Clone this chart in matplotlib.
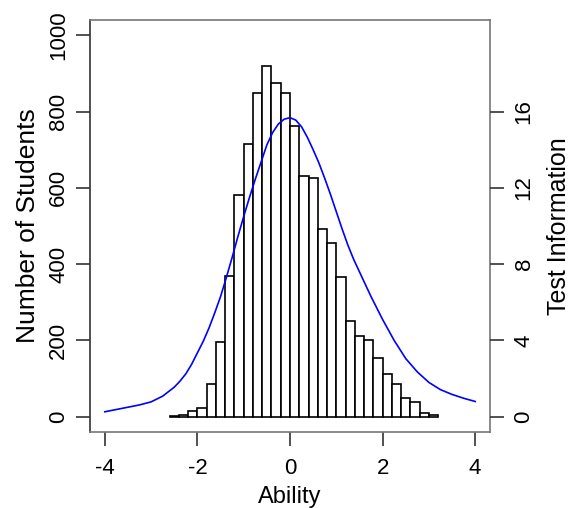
import matplotlib.pyplot as plt
import numpy as np

plt.rcParams['font.family'] = ['Liberation Sans', 'DejaVu Sans']

# Histogram of abilities (bins of width 0.2 from -2.6 to 3.2)
bin_edges = np.round(np.arange(-2.6, 3.21, 0.2), 2)
counts = [1, 5, 16, 24, 85, 196, 369, 582, 715, 849, 919, 874, 848, 762,
          631, 625, 492, 456, 366, 251, 212, 200, 154, 113, 85, 48, 39, 9, 4]

# Test information curve
theta = [-4.0, -3.75, -3.5, -3.25, -3.0, -2.75, -2.5, -2.375, -2.25, -2.125,
         -2.0, -1.875, -1.75, -1.625, -1.5, -1.375, -1.25, -1.125,
         -1.0, -0.875, -0.75, -0.625, -0.5, -0.375, -0.25, -0.125,
         0.0, 0.125, 0.25, 0.375, 0.5, 0.625, 0.75, 0.875,
         1.0, 1.125, 1.25, 1.375, 1.5, 1.625, 1.75, 1.875,
         2.0, 2.25, 2.5, 2.75, 3.0, 3.25, 3.5, 3.75, 4.0]
info = [0.26, 0.38, 0.50, 0.62, 0.78, 1.08, 1.55, 1.87, 2.25, 2.75,
        3.35, 3.95, 4.65, 5.45, 6.3, 7.3, 8.35, 9.45,
        10.5, 11.5, 12.45, 13.35, 14.25, 14.9, 15.35, 15.6,
        15.68, 15.55, 15.2, 14.65, 14.0, 13.3, 12.5, 11.65,
        10.75, 9.85, 9.0, 8.25, 7.6, 6.95, 6.3, 5.7,
        5.1, 4.0, 3.05, 2.35, 1.8, 1.42, 1.17, 0.97, 0.8]

xticks = [-4, -2, 0, 2, 4]
yticks = [0, 200, 400, 600, 800, 1000]
info_ticks = [0, 4, 8, 12, 16]

fig = plt.figure(figsize=(5.71, 5.08), dpi=100)
ax = fig.add_axes([90 / 571, 76 / 508, 400 / 571, 412 / 508])

ax.bar(bin_edges[:-1], counts, width=0.2, align='edge',
       facecolor='white', edgecolor='black', linewidth=1.2)

ax.set_xlim(-4.32, 4.32)
ax.set_ylim(-40, 1040)
ax.set_xticks(xticks)
ax.set_xticklabels([str(t) for t in xticks])
ax.set_yticks(yticks)
ax.set_yticklabels([str(t) for t in yticks], rotation=90, va='center')
ax.set_xlabel('Ability', fontsize=17, labelpad=5)
ax.set_ylabel('Number of Students', fontsize=19, labelpad=6)

for s in ax.spines.values():
    s.set_color('#777777')
    s.set_linewidth(1.2)
ax.spines['left'].set_color('#333333')
ax.tick_params(direction='out', length=10, width=1.2, labelsize=16, color='#333333')
ax.tick_params(axis='x', pad=9)
ax.tick_params(axis='y', pad=5)

ax2 = ax.twinx()
ax2.plot(theta, info, color='blue', linewidth=1.2)
ax2.set_ylim(-0.8, 20.8)
ax2.set_yticks(info_ticks)
ax2.set_yticklabels([str(t) for t in info_ticks], rotation=90, va='center')
ax2.set_ylabel('Test Information', fontsize=18, labelpad=9)
for s in ax2.spines.values():
    s.set_visible(False)
ax2.tick_params(direction='out', length=10, width=1.2, labelsize=16, color='#333333', pad=7)

fig.savefig('out.png', dpi=100)
